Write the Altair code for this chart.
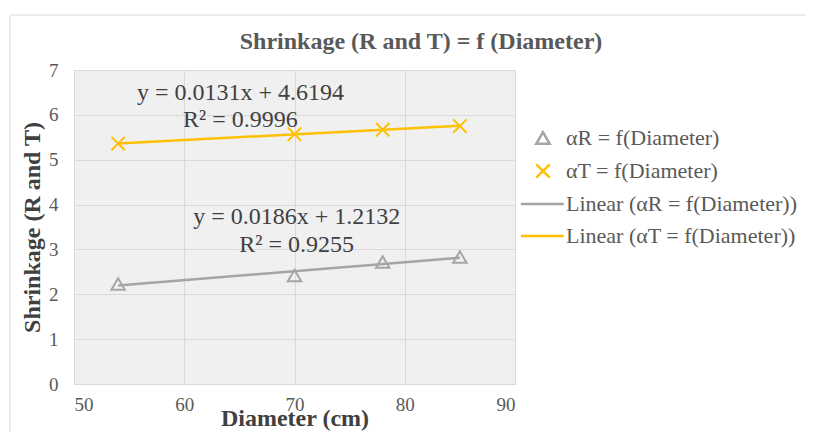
import altair as alt
import pandas as pd

# ---- data ----
diameter = [54, 70, 78, 85]
alpha_r = [2.23, 2.42, 2.72, 2.83]
alpha_t = [5.36, 5.57, 5.67, 5.75]

series_names = ["αR = f(Diameter)", "αT = f(Diameter)",
                "Linear (αR = f(Diameter))", "Linear (αT = f(Diameter))"]
series_colors = ["#a5a5a5", "#ffc000", "#a5a5a5", "#ffc000"]
series_shapes = ["triangle-up", "M-1,-1L1,1M-1,1L1,-1", "M-3.3,0L3.1,0", "M-3.3,0L3.1,0"]

ann_text = ["y = 0.0131x + 4.6194", "R² = 0.9996", "y = 0.0186x + 1.2132", "R² = 0.9255"]
ann_x = [65.1, 65.1, 70.2, 70.2]
ann_y = [6.49, 5.88, 3.72, 3.10]

title_text = "Shrinkage (R and T) = f (Diameter)"

FONT = "Liberation Serif"

rows = []
for d, r, t in zip(diameter, alpha_r, alpha_t):
    rows.append({"diameter": d, "value": r, "series": series_names[0]})
    rows.append({"diameter": d, "value": t, "series": series_names[1]})
df = pd.DataFrame(rows)
ann = pd.DataFrame({"text": ann_text, "x": ann_x, "y": ann_y})

xscale = alt.Scale(domain=[50, 90], nice=False, zero=False)
yscale = alt.Scale(domain=[0, 7], nice=False)

xax = alt.Axis(values=[50, 60, 70, 80, 90], title="Diameter (cm)", grid=True,
               gridColor="#d9d9d9", domain=False, ticks=False, labelPadding=11,
               labelFont=FONT, labelFontSize=19, labelColor="#595959",
               titleFont=FONT, titleFontSize=24, titleFontWeight="bold",
               titleColor="#404040", titlePadding=-8)
yax = alt.Axis(values=list(range(0, 8)), title="Shrinkage (R and T)", grid=True,
               gridColor="#d9d9d9", domain=False, ticks=False, labelPadding=16,
               labelFont=FONT, labelFontSize=19, labelColor="#595959",
               titleFont=FONT, titleFontSize=24, titleFontWeight="bold",
               titleColor="#404040", titlePadding=4)

leg = alt.Legend(title=None, orient="none", legendX=458, legendY=57,
                 padding=0, symbolSize=180, symbolStrokeWidth=2.5,
                 labelFont=FONT, labelFontSize=22, labelColor="#595959",
                 labelOffset=12, labelLimit=400, rowPadding=10)

base = alt.Chart(df)

lines = base.transform_regression(
    "diameter", "value", groupby=["series"]
).transform_calculate(
    lname="'Linear (' + datum.series + ')'"
).mark_line(strokeWidth=2.5).encode(
    x=alt.X("diameter:Q", scale=xscale, axis=xax),
    y=alt.Y("value:Q", scale=yscale, axis=yax),
    color=alt.Color("lname:N", scale=alt.Scale(domain=series_names, range=series_colors), legend=None),
)

points = base.mark_point(filled=False, size=180, strokeWidth=2, opacity=1).encode(
    x=alt.X("diameter:Q", scale=xscale),
    y=alt.Y("value:Q", scale=yscale),
    color=alt.Color("series:N", scale=alt.Scale(domain=series_names, range=series_colors), legend=leg),
    shape=alt.Shape("series:N", scale=alt.Scale(domain=series_names, range=series_shapes), legend=leg),
)

texts = alt.Chart(ann).mark_text(font=FONT, fontSize=24, color="#404040").encode(
    x=alt.X("x:Q", scale=xscale),
    y=alt.Y("y:Q", scale=yscale),
    text="text:N",
)

# chart title (drawn as text so the outer frame does not push it away)
title = alt.Chart(alt.Data(values=[{"t": title_text}])).mark_text(
    font=FONT, fontSize=24, fontWeight="bold", color="#595959",
    align="center", baseline="middle", clip=False
).encode(x=alt.value(347), y=alt.value(-28), text="t:N")

border = alt.Chart(alt.Data(values=[{"a": 1}])).mark_rect(
    fill=None, stroke="#d9d9d9", strokeWidth=1, clip=False
).encode(x=alt.value(-64), x2=alt.value(760), y=alt.value(-55), y2=alt.value(380))

chart = alt.layer(border, lines, points, texts, title).resolve_scale(
    color="independent", shape="independent"
).properties(
    width=441, height=314,
    autosize=alt.AutoSizeParams(type="none"),
    padding={"left": 66, "top": 62, "right": 290, "bottom": 48},
).configure_view(fill="#f0f0f0", stroke="#d9d9d9")

chart.save("out.html", embed_options={"renderer": "svg", "actions": False})
